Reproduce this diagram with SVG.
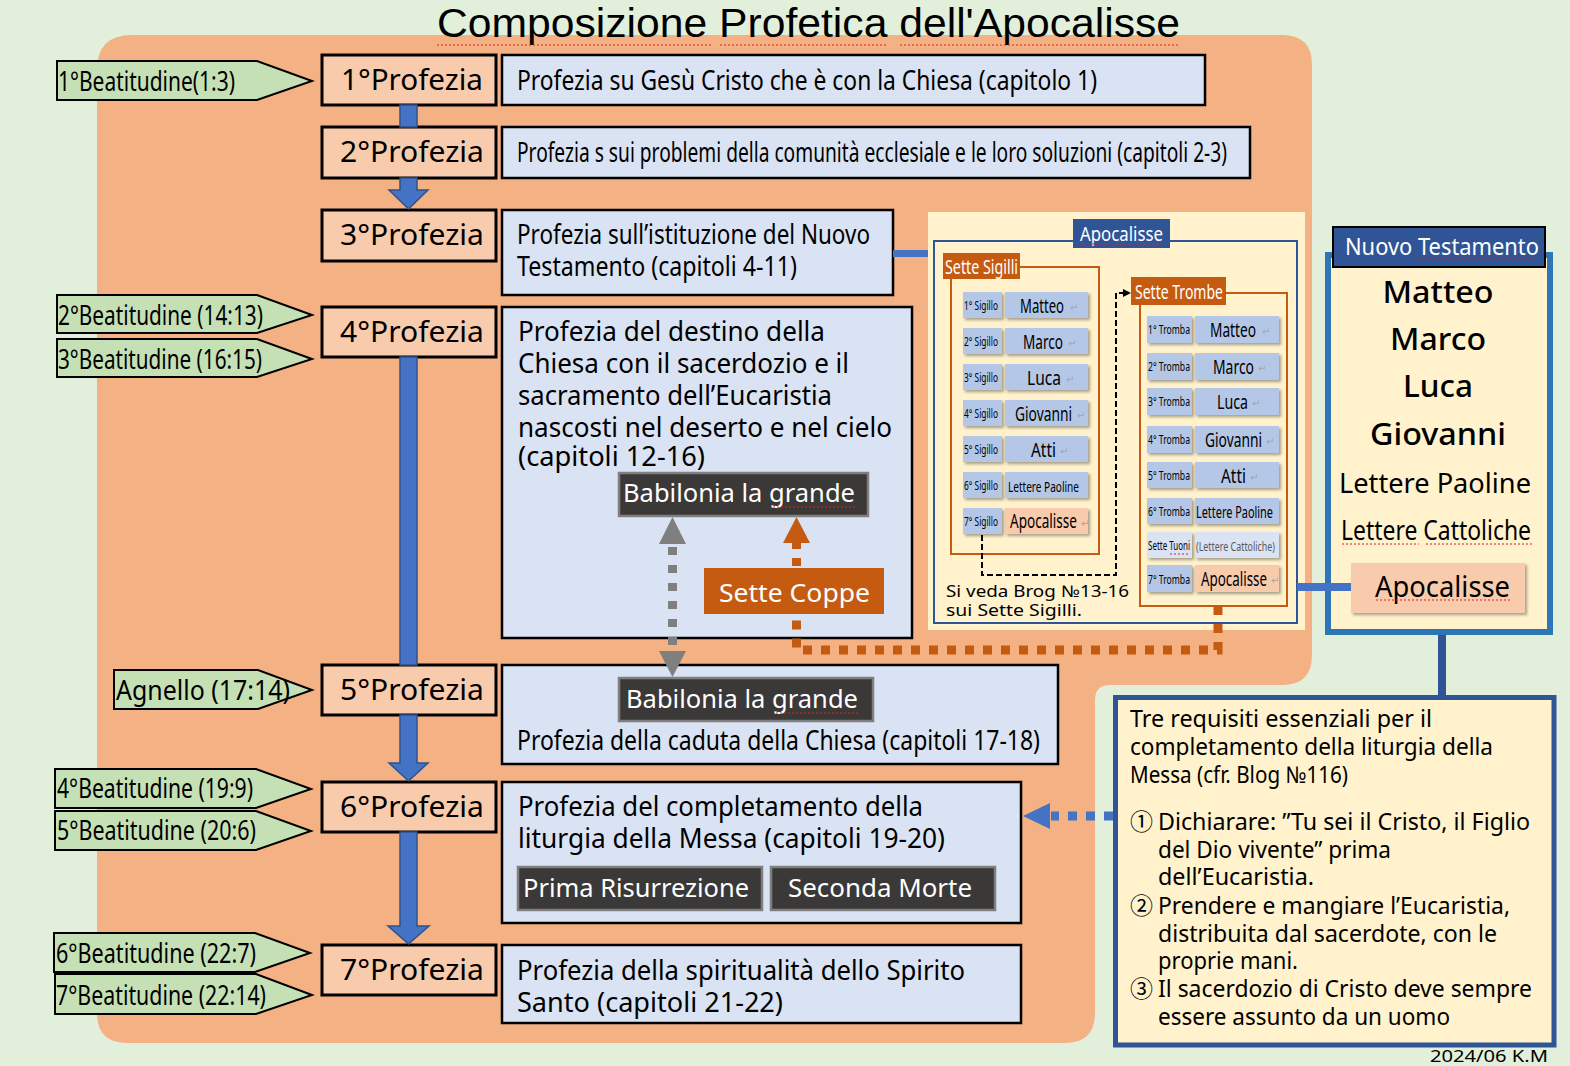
<svg xmlns="http://www.w3.org/2000/svg" width="1570" height="1066" viewBox="0 0 1570 1066">
<defs>
<style>
text{font-family:"Noto Sans","Noto Sans CJK JP",sans-serif;fill:#000}
.pro{fill:#F8CBAD;stroke:#000;stroke-width:3}
.desc{fill:#DAE3F3;stroke:#000;stroke-width:2.5}
.beat{fill:#C5E0B4;stroke:#000;stroke-width:2}
.dark{fill:#3B3838;stroke:#7F7F7F;stroke-width:2.5}
.wt{fill:#fff}
.arrow{fill:#4472C4;stroke:#2F528F;stroke-width:1.5}
.sm{fill:#B4C7E7}
.ret{fill:#A6A6A6;font-size:10px;font-family:"DejaVu Sans",sans-serif}
.sp{stroke:#E02020;stroke-width:1.2;stroke-dasharray:2 2;fill:none}
.ptxt{font-size:29px}
.btxt{font-size:27px}
.dtxt{font-size:28px}
.stxt{font-size:13px}
.btx{font-size:19px}
</style>
<filter id="sh" x="-10%" y="-10%" width="130%" height="140%">
<feDropShadow dx="2" dy="2" stdDeviation="1.5" flood-color="#000" flood-opacity="0.35"/>
</filter>
</defs>

<rect x="0" y="0" width="1570" height="1066" fill="#E2EFDA"/>
<path d="M132,35 H1282 Q1312,35 1312,65 V655 Q1312,685 1282,685 H1110 Q1095,685 1095,700 V1013 Q1095,1043 1065,1043 H127 Q97,1043 97,1013 V70 Q97,35 132,35 Z" fill="#F4B183"/>

<g id="title">
<text x="437" y="37" font-size="40" style="font-family:'Liberation Sans',sans-serif" textLength="743" lengthAdjust="spacingAndGlyphs">Composizione Profetica dell'Apocalisse</text>
<path class="sp" d="M437,45 H712 M720,45 H888 M900,45 H1180"/>
</g>

<g id="beatitudini">
<g id="b1"><polygon class="beat" points="57,61 257,61 312,81 257,100 57,100"/><text class="btxt" x="58" y="91" textLength="177" lengthAdjust="spacingAndGlyphs">1°Beatitudine(1:3)</text></g>
<g id="b2"><polygon class="beat" points="57,295 257,295 312,315 257,333 57,333"/><text class="btxt" x="58" y="325" textLength="205" lengthAdjust="spacingAndGlyphs">2°Beatitudine (14:13)</text></g>
<g id="b3"><polygon class="beat" points="57,339 257,339 312,359 257,377 57,377"/><text class="btxt" x="58" y="369" textLength="204" lengthAdjust="spacingAndGlyphs">3°Beatitudine (16:15)</text></g>
<g id="agnello"><polygon class="beat" points="114,670 258,670 312,690 258,709 114,709"/><text class="btxt" x="116" y="700" textLength="174" lengthAdjust="spacingAndGlyphs">Agnello (17:14)</text></g>
<g id="b4"><polygon class="beat" points="55,769 256,769 311,789 256,808 55,808"/><text class="btxt" x="57" y="798" textLength="196" lengthAdjust="spacingAndGlyphs">4°Beatitudine (19:9)</text></g>
<g id="b5"><polygon class="beat" points="55,811 256,811 311,831 256,850 55,850"/><text class="btxt" x="57" y="840" textLength="199" lengthAdjust="spacingAndGlyphs">5°Beatitudine (20:6)</text></g>
<g id="b6"><polygon class="beat" points="54,933 255,933 310,953 255,972 54,972"/><text class="btxt" x="56" y="963" textLength="200" lengthAdjust="spacingAndGlyphs">6°Beatitudine (22:7)</text></g>
<g id="b7"><polygon class="beat" points="55,974 256,974 312,995 256,1014 55,1014"/><text class="btxt" x="56" y="1005" textLength="210" lengthAdjust="spacingAndGlyphs">7°Beatitudine (22:14)</text></g>
</g>

<g id="profezie">
<g id="p1"><rect class="pro" x="322" y="55" width="174" height="50"/><text class="ptxt" x="341" y="90" textLength="142" lengthAdjust="spacingAndGlyphs">1°Profezia</text></g>
<g id="p2"><rect class="pro" x="322" y="127" width="174" height="51"/><text class="ptxt" x="340" y="162" textLength="144" lengthAdjust="spacingAndGlyphs">2°Profezia</text></g>
<g id="p3"><rect class="pro" x="322" y="210" width="174" height="51"/><text class="ptxt" x="340" y="245" textLength="144" lengthAdjust="spacingAndGlyphs">3°Profezia</text></g>
<g id="p4"><rect class="pro" x="322" y="307" width="174" height="50"/><text class="ptxt" x="340" y="342" textLength="144" lengthAdjust="spacingAndGlyphs">4°Profezia</text></g>
<g id="p5"><rect class="pro" x="322" y="665" width="174" height="50"/><text class="ptxt" x="340" y="700" textLength="144" lengthAdjust="spacingAndGlyphs">5°Profezia</text></g>
<g id="p6"><rect class="pro" x="322" y="782" width="174" height="50"/><text class="ptxt" x="340" y="817" textLength="144" lengthAdjust="spacingAndGlyphs">6°Profezia</text></g>
<g id="p7"><rect class="pro" x="322" y="945" width="174" height="50"/><text class="ptxt" x="340" y="980" textLength="144" lengthAdjust="spacingAndGlyphs">7°Profezia</text></g>
</g>

<g id="descrizioni">
<g id="d1"><rect class="desc" x="502" y="55" width="703" height="50"/><text class="dtxt" x="517" y="90" textLength="580" lengthAdjust="spacingAndGlyphs">Profezia su Gesù Cristo che è con la Chiesa (capitolo 1)</text></g>
<g id="d2"><rect class="desc" x="502" y="127" width="748" height="51"/><text class="dtxt" x="517" y="162" textLength="710" lengthAdjust="spacingAndGlyphs">Profezia s sui problemi della comunità ecclesiale e le loro soluzioni (capitoli 2-3)</text></g>
<g id="d3"><rect class="desc" x="502" y="210" width="391" height="85"/>
<text class="dtxt" x="517" y="244" textLength="353" lengthAdjust="spacingAndGlyphs">Profezia sull’istituzione del Nuovo</text>
<text class="dtxt" x="517" y="276" textLength="280" lengthAdjust="spacingAndGlyphs">Testamento (capitoli 4-11)</text></g>
<g id="d4"><rect class="desc" x="502" y="307" width="410" height="331"/>
<text class="dtxt" x="518" y="341" textLength="307" lengthAdjust="spacingAndGlyphs">Profezia del destino della</text>
<text class="dtxt" x="518" y="373" textLength="331" lengthAdjust="spacingAndGlyphs">Chiesa con il sacerdozio e il</text>
<text class="dtxt" x="518" y="405" textLength="314" lengthAdjust="spacingAndGlyphs">sacramento dell’Eucaristia</text>
<text class="dtxt" x="518" y="437" textLength="374" lengthAdjust="spacingAndGlyphs">nascosti nel deserto e nel cielo</text>
<text class="dtxt" x="518" y="466" textLength="187" lengthAdjust="spacingAndGlyphs">(capitoli 12-16)</text>
</g>
<g id="d5"><rect class="desc" x="502" y="665" width="556" height="99"/>
<text class="dtxt" x="517" y="750" textLength="523" lengthAdjust="spacingAndGlyphs">Profezia della caduta della Chiesa (capitoli 17-18)</text></g>
<g id="d6"><rect class="desc" x="502" y="782" width="519" height="141"/>
<text class="dtxt" x="518" y="816" textLength="405" lengthAdjust="spacingAndGlyphs">Profezia del completamento della</text>
<text class="dtxt" x="518" y="848" textLength="427" lengthAdjust="spacingAndGlyphs">liturgia della Messa (capitoli 19-20)</text></g>
<g id="d7"><rect class="desc" x="502" y="945" width="519" height="78"/>
<text class="dtxt" x="517" y="980" textLength="448" lengthAdjust="spacingAndGlyphs">Profezia della spiritualità dello Spirito</text>
<text class="dtxt" x="517" y="1012" textLength="266" lengthAdjust="spacingAndGlyphs">Santo (capitoli 21-22)</text></g>
</g>

<g id="babilonia1"><rect class="dark" x="619" y="473" width="249" height="43"/><text class="wt" x="623" y="502" font-size="25" textLength="232" lengthAdjust="spacingAndGlyphs">Babilonia la grande</text><path class="sp" d="M773,507 H855"/></g>
<g id="settecoppe"><rect x="704" y="568" width="180" height="46" fill="#C55A11"/><text class="wt" x="719" y="602" font-size="25" textLength="151" lengthAdjust="spacingAndGlyphs">Sette Coppe</text></g>
<g id="babilonia2"><rect class="dark" x="619" y="678" width="254" height="43"/><text class="wt" x="626" y="708" font-size="25" textLength="232" lengthAdjust="spacingAndGlyphs">Babilonia la grande</text><path class="sp" d="M776,713 H858"/></g>
<g id="primaris"><rect class="dark" x="518" y="867" width="244" height="43"/><text class="wt" x="523" y="897" font-size="25" textLength="226" lengthAdjust="spacingAndGlyphs">Prima Risurrezione</text></g>
<g id="secmorte"><rect class="dark" x="771" y="867" width="224" height="43"/><text class="wt" x="788" y="897" font-size="25" textLength="184" lengthAdjust="spacingAndGlyphs">Seconda Morte</text></g>

<g id="apocalisse-panel">
<rect x="928" y="212" width="377" height="418" fill="#FFF2CC"/>
<rect x="934" y="241" width="363" height="382" fill="none" stroke="#2F5597" stroke-width="2"/>
<rect x="1073" y="219" width="97" height="29" fill="#2F5597"/>
<text class="wt btx" x="1080" y="241" textLength="83" lengthAdjust="spacingAndGlyphs">Apocalisse</text>
<path class="sp" d="M1080,244 H1163"/>

<rect x="951" y="267" width="148" height="287" fill="none" stroke="#C55A11" stroke-width="2"/>
<rect x="943" y="253" width="77" height="26" fill="#C55A11"/>
<text class="wt btx" x="945" y="274" textLength="73" lengthAdjust="spacingAndGlyphs">Sette Sigilli</text>

<g filter="url(#sh)">
<rect class="sm" x="963" y="292" width="39" height="26"/><rect class="sm" x="1005" y="292" width="83" height="26"/>
<rect class="sm" x="963" y="328" width="39" height="26"/><rect class="sm" x="1005" y="328" width="83" height="26"/>
<rect class="sm" x="963" y="364" width="39" height="26"/><rect class="sm" x="1005" y="364" width="83" height="26"/>
<rect class="sm" x="963" y="400" width="39" height="26"/><rect class="sm" x="1005" y="400" width="83" height="26"/>
<rect class="sm" x="963" y="436" width="39" height="26"/><rect class="sm" x="1005" y="436" width="83" height="26"/>
<rect class="sm" x="963" y="472" width="39" height="26"/><rect class="sm" x="1005" y="472" width="83" height="26"/>
<rect class="sm" x="963" y="508" width="39" height="26"/><rect x="1005" y="508" width="83" height="26" fill="#F8CBAD"/>
</g>
<text class="stxt" x="964" y="310" textLength="34" lengthAdjust="spacingAndGlyphs">1° Sigillo</text>
<text class="stxt" x="964" y="346" textLength="34" lengthAdjust="spacingAndGlyphs">2° Sigillo</text>
<text class="stxt" x="964" y="382" textLength="34" lengthAdjust="spacingAndGlyphs">3° Sigillo</text>
<text class="stxt" x="964" y="418" textLength="34" lengthAdjust="spacingAndGlyphs">4° Sigillo</text>
<text class="stxt" x="964" y="454" textLength="34" lengthAdjust="spacingAndGlyphs">5° Sigillo</text>
<text class="stxt" x="964" y="490" textLength="34" lengthAdjust="spacingAndGlyphs">6° Sigillo</text>
<text class="stxt" x="964" y="526" textLength="34" lengthAdjust="spacingAndGlyphs">7° Sigillo</text>
<text class="btx" x="1020" y="313" textLength="44" lengthAdjust="spacingAndGlyphs">Matteo</text>
<text class="btx" x="1023" y="349" textLength="40" lengthAdjust="spacingAndGlyphs">Marco</text>
<text class="btx" x="1027" y="385" textLength="34" lengthAdjust="spacingAndGlyphs">Luca</text>
<text class="btx" x="1015" y="421" textLength="57" lengthAdjust="spacingAndGlyphs">Giovanni</text>
<text class="btx" x="1031" y="457" textLength="25" lengthAdjust="spacingAndGlyphs">Atti</text>
<text x="1008" y="492" font-size="15" textLength="71" lengthAdjust="spacingAndGlyphs">Lettere Paoline</text>
<text class="btx" x="1010" y="528" textLength="67" lengthAdjust="spacingAndGlyphs">Apocalisse</text>
<g class="ret">
<text class="ret" x="1070" y="311">↵</text>
<text class="ret" x="1068" y="347">↵</text>
<text class="ret" x="1066" y="383">↵</text>
<text class="ret" x="1077" y="419">↵</text>
<text class="ret" x="1060" y="455">↵</text>
<text class="ret" x="1081" y="527">↵</text>
</g>

<text x="946" y="597" font-size="16" textLength="183" lengthAdjust="spacingAndGlyphs">Si veda Brog №13-16</text>
<text x="946" y="616" font-size="16" textLength="136" lengthAdjust="spacingAndGlyphs">sui Sette Sigilli.</text>

<rect x="1140" y="293" width="147" height="313" fill="none" stroke="#C55A11" stroke-width="2"/>
<rect x="1131" y="277" width="95" height="28" fill="#C55A11"/>
<text class="wt btx" x="1135" y="299" textLength="88" lengthAdjust="spacingAndGlyphs">Sette Trombe</text>

<g filter="url(#sh)">
<rect class="sm" x="1147" y="316" width="45" height="27"/><rect class="sm" x="1195" y="316" width="84" height="27"/>
<rect class="sm" x="1147" y="353" width="45" height="27"/><rect class="sm" x="1195" y="353" width="84" height="27"/>
<rect class="sm" x="1147" y="388" width="45" height="27"/><rect class="sm" x="1195" y="388" width="84" height="27"/>
<rect class="sm" x="1147" y="426" width="45" height="27"/><rect class="sm" x="1195" y="426" width="84" height="27"/>
<rect class="sm" x="1147" y="462" width="45" height="26"/><rect class="sm" x="1195" y="462" width="84" height="26"/>
<rect class="sm" x="1147" y="498" width="45" height="26"/><rect class="sm" x="1195" y="498" width="84" height="26"/>
<rect x="1147" y="532" width="45" height="26" fill="#DAE3F3"/><rect x="1195" y="532" width="84" height="26" fill="#DAE3F3"/>
<rect class="sm" x="1147" y="565" width="45" height="27"/><rect x="1195" y="565" width="84" height="27" fill="#F8CBAD"/>
</g>
<text class="stxt" x="1148" y="334" textLength="42" lengthAdjust="spacingAndGlyphs">1° Tromba</text>
<text class="stxt" x="1148" y="371" textLength="42" lengthAdjust="spacingAndGlyphs">2° Tromba</text>
<text class="stxt" x="1148" y="406" textLength="42" lengthAdjust="spacingAndGlyphs">3° Tromba</text>
<text class="stxt" x="1148" y="444" textLength="42" lengthAdjust="spacingAndGlyphs">4° Tromba</text>
<text class="stxt" x="1148" y="480" textLength="42" lengthAdjust="spacingAndGlyphs">5° Tromba</text>
<text class="stxt" x="1148" y="516" textLength="42" lengthAdjust="spacingAndGlyphs">6° Tromba</text>
<text class="stxt" x="1148" y="550" textLength="42" lengthAdjust="spacingAndGlyphs">Sette Tuoni</text>
<path class="sp" d="M1170,554 H1189"/>
<text class="stxt" x="1148" y="584" textLength="42" lengthAdjust="spacingAndGlyphs">7° Tromba</text>
<text class="btx" x="1210" y="337" textLength="46" lengthAdjust="spacingAndGlyphs">Matteo</text>
<text class="btx" x="1213" y="374" textLength="41" lengthAdjust="spacingAndGlyphs">Marco</text>
<text class="btx" x="1217" y="409" textLength="31" lengthAdjust="spacingAndGlyphs">Luca</text>
<text class="btx" x="1205" y="447" textLength="57" lengthAdjust="spacingAndGlyphs">Giovanni</text>
<text class="btx" x="1221" y="483" textLength="25" lengthAdjust="spacingAndGlyphs">Atti</text>
<text x="1196" y="518" font-size="17" textLength="77" lengthAdjust="spacingAndGlyphs">Lettere Paoline</text>
<text x="1196" y="551" font-size="13" style="fill:#595959" textLength="79" lengthAdjust="spacingAndGlyphs">(Lettere Cattoliche)</text>
<text class="btx" x="1201" y="586" textLength="66" lengthAdjust="spacingAndGlyphs">Apocalisse</text>
<g class="ret">
<text class="ret" x="1262" y="335">↵</text>
<text class="ret" x="1258" y="372">↵</text>
<text class="ret" x="1252" y="407">↵</text>
<text class="ret" x="1266" y="445">↵</text>
<text class="ret" x="1250" y="481">↵</text>
<text class="ret" x="1271" y="584">↵</text>
</g>
</g>

<g id="nuovo-testamento">
<rect x="1328" y="255" width="222" height="377" fill="#FFF2CC" stroke="#2E75B6" stroke-width="6"/>
<rect x="1333" y="227" width="212" height="40" fill="#2F5597" stroke="#000" stroke-width="2"/>
<text class="wt" x="1345" y="255" font-size="24" textLength="194" lengthAdjust="spacingAndGlyphs">Nuovo Testamento</text>
<path class="sp" d="M1418,259 H1538"/>
<text x="1438" y="303" font-size="30" font-weight="500" text-anchor="middle" textLength="111" lengthAdjust="spacingAndGlyphs">Matteo</text>
<text x="1438" y="350" font-size="30" font-weight="500" text-anchor="middle" textLength="96" lengthAdjust="spacingAndGlyphs">Marco</text>
<text x="1438" y="397" font-size="30" font-weight="500" text-anchor="middle" textLength="70" lengthAdjust="spacingAndGlyphs">Luca</text>
<text x="1438" y="445" font-size="30" font-weight="500" text-anchor="middle" textLength="136" lengthAdjust="spacingAndGlyphs">Giovanni</text>
<text x="1435" y="493" font-size="28" text-anchor="middle" textLength="192" lengthAdjust="spacingAndGlyphs">Lettere Paoline</text>
<text x="1436" y="540" font-size="27" text-anchor="middle" textLength="190" lengthAdjust="spacingAndGlyphs">Lettere Cattoliche</text>
<path class="sp" d="M1342,544 H1419 M1426,544 H1533"/>
<rect x="1351" y="563" width="174" height="50" fill="#F8CBAD" filter="url(#sh)"/>
<text x="1375" y="597" font-size="29" textLength="135" lengthAdjust="spacingAndGlyphs">Apocalisse</text>
<path class="sp" d="M1376,600 H1510"/>
</g>

<g id="tre-requisiti">
<rect x="1115.5" y="697.5" width="438.5" height="347.5" fill="#FFF2CC" stroke="#2F5597" stroke-width="5"/>
<g font-size="23">
<text x="1130" y="727" textLength="302" lengthAdjust="spacingAndGlyphs">Tre requisiti essenziali per il</text>
<text x="1130" y="755" textLength="363" lengthAdjust="spacingAndGlyphs">completamento della liturgia della</text>
<text x="1130" y="783" textLength="218" lengthAdjust="spacingAndGlyphs">Messa (cfr. Blog №116)</text>
<text x="1130" y="830">①</text>
<text x="1158" y="830" textLength="372" lengthAdjust="spacingAndGlyphs">Dichiarare: ”Tu sei il Cristo, il Figlio</text>
<text x="1158" y="858" textLength="233" lengthAdjust="spacingAndGlyphs">del Dio vivente” prima</text>
<text x="1158" y="885" textLength="156" lengthAdjust="spacingAndGlyphs">dell’Eucaristia.</text>
<text x="1130" y="914">②</text>
<text x="1158" y="914" textLength="352" lengthAdjust="spacingAndGlyphs">Prendere e mangiare l’Eucaristia,</text>
<text x="1158" y="942" textLength="339" lengthAdjust="spacingAndGlyphs">distribuita dal sacerdote, con le</text>
<text x="1158" y="969" textLength="140" lengthAdjust="spacingAndGlyphs">proprie mani.</text>
<text x="1130" y="997">③</text>
<text x="1158" y="997" textLength="374" lengthAdjust="spacingAndGlyphs">Il sacerdozio di Cristo deve sempre</text>
<text x="1158" y="1025" textLength="292" lengthAdjust="spacingAndGlyphs">essere assunto da un uomo</text>
</g>
</g>

<text x="1430" y="1062" font-size="16" textLength="118" lengthAdjust="spacingAndGlyphs">2024/06 K.M</text>

<g id="connectors">
<rect class="arrow" x="400" y="105" width="17" height="22"/>
<polygon class="arrow" points="400,178 417,178 417,190 428,190 408.5,209 389,190 400,190"/>
<rect class="arrow" x="400" y="357" width="17" height="308"/>
<polygon class="arrow" points="400,715 417,715 417,763 428,763 408.5,781 389,763 400,763"/>
<polygon class="arrow" points="400,832 417,832 417,926 429,926 408.5,944 388,926 400,926"/>
<rect x="893" y="250" width="35" height="7" fill="#4472C4"/>
<rect x="1297" y="583" width="54" height="8" fill="#4472C4"/>
<rect x="1438" y="635" width="8" height="62" fill="#2F5597"/>
<path d="M982,535 V575 H1116 V293 H1124" fill="none" stroke="#000" stroke-width="2" stroke-dasharray="6 3"/>
<polygon points="1131,293 1123,289 1123,297" fill="#000"/>
<line x1="672.5" y1="547" x2="672.5" y2="650" stroke="#7F7F7F" stroke-width="9" stroke-dasharray="8 10"/>
<polygon points="672.5,517 686,544 659,544" fill="#7F7F7F"/>
<polygon points="659,651 686,651 672.5,677" fill="#7F7F7F"/>
<line x1="796.5" y1="566" x2="796.5" y2="543" stroke="#C55A11" stroke-width="9" stroke-dasharray="8 9"/>
<polygon points="796.5,517 810,543 783,543" fill="#C55A11"/>
<path d="M1218,606 V650 H796.5 V616" fill="none" stroke="#C55A11" stroke-width="9" stroke-dasharray="9 9"/>
<line x1="1113" y1="816" x2="1051" y2="816" stroke="#4472C4" stroke-width="9" stroke-dasharray="9 9"/>
<polygon points="1023,816 1050,803 1050,829" fill="#4472C4"/>
</g>
</svg>
